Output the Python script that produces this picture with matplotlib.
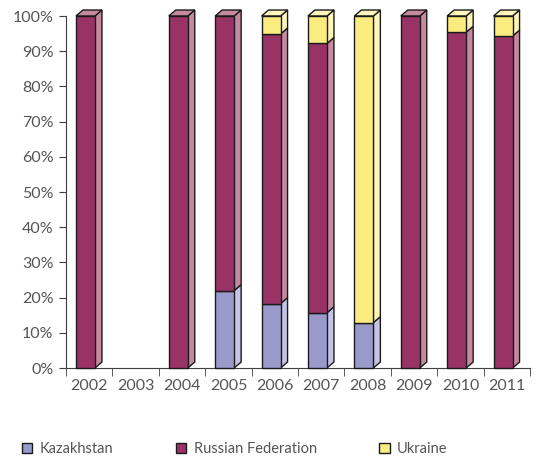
import matplotlib.pyplot as plt
from matplotlib.patches import Polygon, Patch

years = ['2002', '2003', '2004', '2005', '2006', '2007', '2008', '2009', '2010', '2011']
kazakhstan = [0, 0, 0, 22.0, 18.3, 15.7, 12.9, 0, 0, 0]
russia = [100, 0, 100, 78.0, 76.6, 76.5, 0, 100, 95.4, 94.3]
ukraine = [0, 0, 0, 0, 5.1, 7.8, 87.1, 0, 4.6, 5.7]

series = [
    ('Kazakhstan', kazakhstan, '#9999cc', '#c4c4e4'),
    ('Russian Federation', russia, '#993366', '#c58aa0'),
    ('Ukraine', ukraine, '#faec7e', '#fff6bb'),
]

plt.rcParams['font.family'] = ['Lato', 'DejaVu Sans']
text_color = '#555555'

fig = plt.figure(figsize=(5.37, 4.59), dpi=100)
ax = fig.add_axes([66 / 537, 1 - 368 / 459, 464 / 537, 352 / 459])

width = 0.41
shift = -0.08
dx, dy = 0.15, 1.7  # depth of the 3D effect in data units

for i in range(len(years)):
    bottom = 0
    segs = [(v[i], f, s) for _, v, f, s in series if v[i] > 0]
    for k, (val, face, side) in enumerate(segs):
        x0 = i + shift - width / 2
        x1 = x0 + width
        y0, y1 = bottom, bottom + val
        ax.add_patch(Polygon([(x0, y0), (x1, y0), (x1, y1), (x0, y1)],
                             closed=True, fc=face, ec='#1a1a1a', lw=1, clip_on=False, zorder=3))
        ax.add_patch(Polygon([(x1, y0), (x1 + dx, y0 + dy), (x1 + dx, y1 + dy), (x1, y1)],
                             closed=True, fc=side, ec='#1a1a1a', lw=1, clip_on=False, zorder=2))
        if k == len(segs) - 1:
            ax.add_patch(Polygon([(x0, y1), (x1, y1), (x1 + dx, y1 + dy), (x0 + dx, y1 + dy)],
                                 closed=True, fc=side, ec='#1a1a1a', lw=1, clip_on=False, zorder=2))
        bottom = y1

ax.set_xlim(-0.5, len(years) - 0.5)
ax.set_ylim(0, 100)
ax.set_yticks(range(0, 101, 10))
ax.set_yticklabels([f'{v}%' for v in range(0, 101, 10)])
ax.set_xticks(range(len(years)))
ax.set_xticklabels(years)
ax.set_xticks([i - 0.5 for i in range(len(years) + 1)], minor=True)
ax.tick_params(axis='x', which='major', length=0, pad=8, labelsize=11.5, labelcolor=text_color)
ax.tick_params(axis='x', which='minor', length=6, color='#404040', direction='out')
ax.tick_params(axis='y', length=5, color='#404040', labelsize=11.5, labelcolor=text_color, pad=4)

for s in ['top', 'right']:
    ax.spines[s].set_visible(False)
for s in ['left', 'bottom']:
    ax.spines[s].set_color('#404040')
ax.spines['left'].set_bounds(0, 100)

handles = [Patch(fc=f, ec='#1a1a1a', lw=1) for _, _, f, _ in series]
labels = [n for n, _, _, _ in series]
fig.legend(handles, labels, loc='center left', bbox_to_anchor=(0.017, 1 - 449 / 459), ncol=3,
           frameon=False, handlelength=0.7, handleheight=0.7, handletextpad=0.5,
           columnspacing=4.3, prop={'size': 10.5}, labelcolor=text_color)

fig.savefig('out.png', dpi=100)
